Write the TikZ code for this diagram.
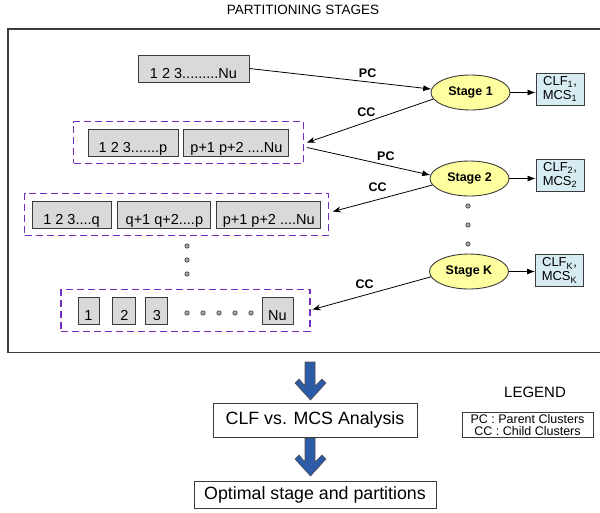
\documentclass[tikz,border=0pt]{standalone}
\usepackage{fontspec}
\setmainfont{Liberation Sans}
\usetikzlibrary{arrows.meta,positioning,shapes.geometric,fit,calc}
\definecolor{partGray}{RGB}{217,217,217}
\definecolor{partPurple}{RGB}{115,45,190}
\definecolor{partYellow}{RGB}{255,255,160}
\definecolor{partCyan}{RGB}{214,236,242}
\definecolor{partBlue}{RGB}{44,92,168}
\definecolor{partEdge}{RGB}{60,60,60}

\begin{document}
\begin{tikzpicture}[x=1pt, y=-1pt,
  idbox/.style={draw=partEdge, fill=partGray, line width=0.9pt, inner xsep=0pt, inner ysep=0pt,
                minimum height=27pt, text height=19pt, text depth=0pt,
                font=\fontsize{14.5}{16}\selectfont},
  clusterbox/.style={draw=partPurple, line width=1.4pt, dash pattern=on 7pt off 4pt, inner ysep=7pt},
  stagenode/.style={ellipse, draw=partEdge, fill=partYellow, line width=0.9pt, minimum width=79pt,
                    minimum height=35pt, inner sep=0pt, font=\fontsize{12.5}{14}\selectfont\bfseries},
  resbox/.style={draw=partEdge, fill=partCyan, line width=0.9pt, minimum width=48pt,
                 minimum height=32pt, inner sep=1pt, align=center, font=\fontsize{13}{14}\selectfont},
  flow/.style={-{Latex[length=8pt,width=6pt]}, line width=0.8pt},
  back/.style={-{Stealth[length=8pt,width=6pt]}, line width=0.8pt},
  lbl/.style={font=\fontsize{12.5}{14}\selectfont\bfseries, inner sep=1pt},
  plainbox/.style={draw=partEdge, line width=1pt, fill=white, inner ysep=2pt,
                   font=\fontsize{17.8}{20}\selectfont},
  seqdot/.style={fill=gray!70, draw=partEdge, line width=0.6pt},
  bigarrow/.style={fill=partBlue, draw=black!70, line width=0.6pt}
]
  \useasboundingbox (0,0) rectangle (600,512);

  % frame and title
  \node[font=\fontsize{13.5}{16}\selectfont] (title) at (303,10) {PARTITIONING STAGES};
  \draw[line width=1.3pt, partEdge] (600.5,29) -- (8,29) -- (8,352.5) -- (600.5,352.5);

  % clusters
  \node[idbox, minimum width=111pt] (all) at (193.5,68.5) {1 2 3.........Nu};

  \node[idbox, minimum width=90pt]                   (s1a) at (133,142.5) {1 2 3.......p};
  \node[idbox, minimum width=105pt, right=5pt of s1a] (s1b) {p+1 p+2 ....Nu};
  \node[clusterbox, inner xsep=14pt, fit=(s1a)(s1b)] (g1) {};

  \node[idbox, minimum width=79pt]                   (s2a) at (71.5,214.5) {1 2 3....q};
  \node[idbox, minimum width=93pt, right=6pt of s2a]  (s2b) {q+1 q+2....p};
  \node[idbox, minimum width=104pt, right=5pt of s2b] (s2c) {p+1 p+2 ....Nu};
  \node[clusterbox, inner xsep=7pt, fit=(s2a)(s2c)] (g2) {};

  \node[idbox, minimum width=21pt]                   (u1) at (88.5,310.5) {1};
  \node[idbox, minimum width=23pt, right=13pt of u1]  (u2) {2};
  \node[idbox, minimum width=22pt, right=9pt of u2]   (u3) {3};
  \node[idbox, minimum width=31pt]                   (uN) at (277.5,310.5) {Nu};
  \node[clusterbox, inner xsep=16.5pt, fit=(u1)(uN)] (g3) {};

  \foreach \x in {187,203,219,235,251}
    \filldraw[seqdot] (\x,313) circle (2.2pt);
  \foreach \y in {246,260,274}
    \filldraw[seqdot] (187,\y) circle (2.2pt);
  \foreach \y in {206,225,244}
    \filldraw[seqdot] (468,\y) circle (2.2pt);

  % stages and results
  \node[stagenode] (st1) at (470.5,92.5)  {Stage 1};
  \node[stagenode] (st2) at (469.5,178.5) {Stage 2};
  \node[stagenode] (stK) at (469,271.5)   {Stage K};

  \node[resbox] (r1) at (560,89)    {CLF\textsubscript{1},\\MCS\textsubscript{1}};
  \node[resbox] (r2) at (560,175)   {CLF\textsubscript{2},\\MCS\textsubscript{2}};
  \node[resbox] (rK) at (559.5,270.5) {CLF\textsubscript{K},\\MCS\textsubscript{K}};

  \draw[flow] (all.east) -- node[lbl, pos=0.65, above=3pt] (pc1) {PC} (st1.175);
  \draw[back] (st1.190) -- node[lbl, pos=0.53, above=4pt] (cc1) {CC} ([xshift=3pt]g1.east);
  \draw[flow] ([xshift=3pt,yshift=-5pt]g1.east) -- node[lbl, pos=0.64, above=3.5pt] (pc2) {PC} (st2.175);
  \draw[back] (st2.190) -- node[lbl, pos=0.55, above=7pt] (cc2) {CC} ([xshift=4pt,yshift=3pt]g2.east);
  \draw[back] (stK.188) -- node[lbl, pos=0.56, above=5.5pt] (cck) {CC} ([xshift=2pt,yshift=1pt]g3.east);

  \draw[flow] (st1.east) -- (st1.east -| r1.west);
  \draw[flow] (st2.east) -- (st2.east -| r2.west);
  \draw[flow] (stK.east) -- (stK.east -| rK.west);

  % analysis
  \foreach \yo in {0,76}
    \filldraw[bigarrow, shift={(0,\yo)}] (305,362) -- (315,362) -- (315,386) -- (322,379) -- (326,383)
      -- (310.5,400) -- (295,383) -- (299,379) -- (305,386) -- cycle;

  \node[plainbox, minimum width=204pt, minimum height=34pt] (ana) at (315,420) {CLF vs. MCS Analysis};
  \node[plainbox, minimum width=242pt, minimum height=27pt] (opt) at (315,494.5) {Optimal stage and partitions};

  % legend
  \node[font=\fontsize{15}{17}\selectfont] (legtitle) at (535,392) {LEGEND};
  \node[draw=partEdge, line width=0.8pt, align=center, minimum width=131pt, minimum height=25pt,
        inner sep=1pt, font=\fontsize{12.5}{11.5}\selectfont] (legend) at (527.5,425)
        {PC : Parent Clusters\\CC : Child Clusters};
\end{tikzpicture}
\end{document}
